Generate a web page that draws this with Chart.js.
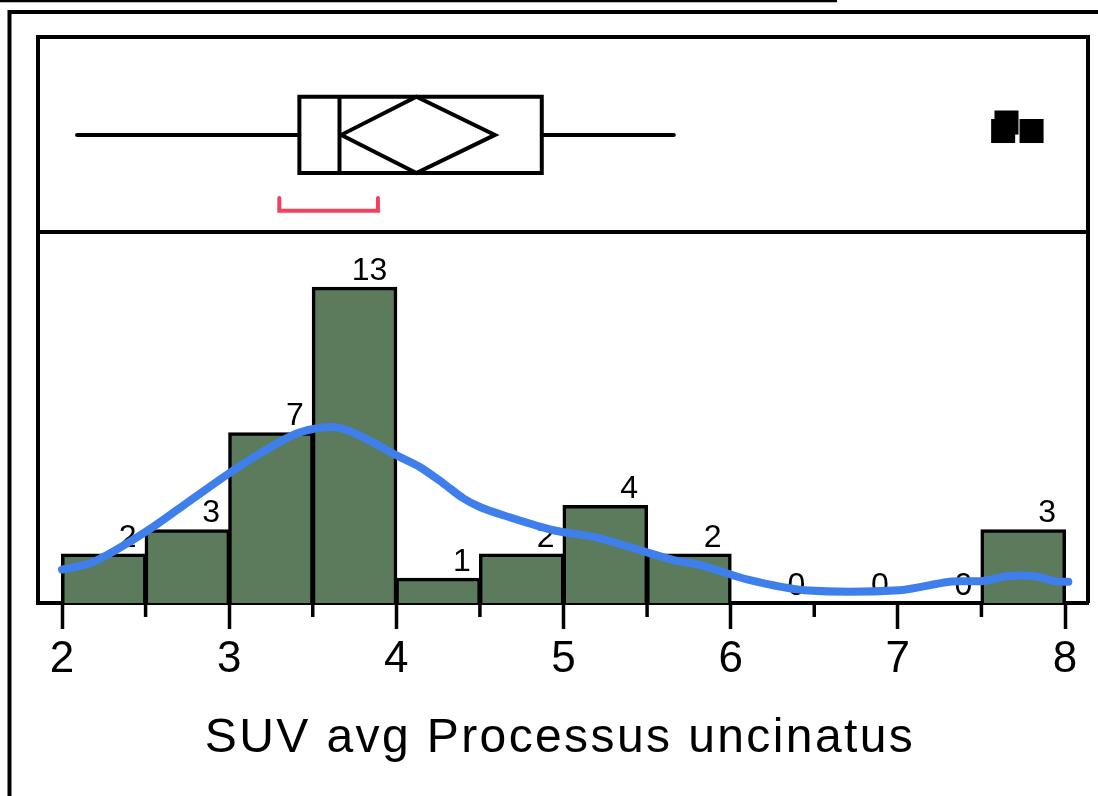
<!DOCTYPE html>
<html>
<head>
<meta charset="utf-8">
<script src="https://cdn.jsdelivr.net/npm/chart.js@4.4.0/dist/chart.umd.min.js"></script>
<style>
  body { margin: 0; background: #fff; }
  #wrap { width: 1098px; height: 796px; }
</style>
</head>
<body>
<div id="wrap"><canvas id="myChart" width="1098" height="796"></canvas></div>
<script>
// histogram bins (width 0.5) and counts
const binStarts = [2, 2.5, 3, 3.5, 4, 4.5, 5, 5.5, 6, 6.5, 7, 7.5];
const binCounts = [2, 3, 7, 13, 1, 2, 4, 2, 0, 0, 0, 3];
const binWidth = 0.5;

// smooth density curve, in count units
const curveX = [2.0, 2.19, 2.5, 2.77, 3.0, 3.2, 3.4, 3.56, 3.67, 3.8, 4.0, 4.14, 4.28, 4.4, 4.5,
  4.64, 4.94, 5.19, 5.39, 5.66, 5.82, 6.11, 6.44, 7.01, 7.31, 7.51, 7.66, 7.81, 7.96, 8.02];
const curveY = [1.38, 1.70, 2.93, 4.24, 5.35, 6.23, 6.98, 7.24, 7.20, 6.84, 6.09, 5.61, 4.94, 4.32, 3.96,
  3.62, 3.00, 2.72, 2.32, 1.77, 1.56, 0.95, 0.53, 0.53, 0.88, 0.91, 1.11, 1.11, 0.88, 0.88];

// box plot: lower whisker, q1, median, q3, upper whisker
const boxStats = [2.09, 3.42, 3.66, 4.87, 5.66];
// mean diamond: lower 95%, mean, upper 95%
const meanDiamond = [3.67, 4.12, 4.59];
const shortestHalf = [3.30, 3.89];
const outliers = [7.63, 7.65, 7.80];

const tickLabels = [2, 3, 4, 5, 6, 7, 8];
const minorTicks = [2.5, 3.5, 4.5, 5.5, 6.5, 7.5];
const axisTitle = 'SUV avg Processus uncinatus';

// vertical layout of the box plot panel (fraction of plot height, 0 = axis)
const rows = { whisker: 0.827, boxTop: 0.8945, boxBottom: 0.7597, bracket: 0.6931, bracketTip: 0.7155, split: 0.6555 };
const outlierRows = [0.8339, 0.8489, 0.8339];

const FONT = '"Liberation Sans", Arial, sans-serif';
const pxPerUnit = 1003 / 6;
const xMin = 2 - 24 / pxPerUnit;
const xMax = 8 + 23 / pxPerUnit;

const lineStyle = {
  type: 'line',
  yAxisID: 'yBox',
  borderColor: '#000',
  borderWidth: 4,
  pointRadius: 0,
  fill: false,
  tension: 0,
  borderCapStyle: 'square',
  borderJoinStyle: 'miter',
  order: 1,
};

const w = rows.whisker;
const datasets = [
  {
    type: 'line',
    data: curveX.map((x, i) => ({ x: x, y: curveY[i] })),
    yAxisID: 'y',
    borderColor: '#3f7feb',
    borderWidth: 8,
    pointRadius: 0,
    tension: 0.3,
    borderCapStyle: 'round',
    borderJoinStyle: 'round',
    fill: false,
    order: 0,
  },
  {
    type: 'bar',
    data: binStarts.map((s, i) => ({ x: s + binWidth / 2, y: binCounts[i] })),
    yAxisID: 'y',
    backgroundColor: '#5c7a5c',
    borderColor: '#000',
    borderWidth: 3.5,
    inflateAmount: 1,
    borderSkipped: 'start',
    barPercentage: 1,
    categoryPercentage: 1,
    grouped: false,
    order: 3,
  },
  Object.assign({}, lineStyle, {
    borderCapStyle: 'round',
    data: [
      { x: boxStats[0], y: w }, { x: boxStats[1], y: w },
      { x: boxStats[2], y: null },
      { x: boxStats[3], y: w }, { x: boxStats[4], y: w },
    ],
  }),
  Object.assign({}, lineStyle, {
    data: [
      { x: boxStats[1], y: rows.boxTop }, { x: boxStats[3], y: rows.boxTop },
      { x: boxStats[3], y: rows.boxBottom }, { x: boxStats[1], y: rows.boxBottom },
      { x: boxStats[1], y: rows.boxTop },
    ],
  }),
  Object.assign({}, lineStyle, {
    borderCapStyle: 'butt',
    data: [{ x: boxStats[2], y: rows.boxTop }, { x: boxStats[2], y: rows.boxBottom }],
  }),
  Object.assign({}, lineStyle, {
    data: [
      { x: meanDiamond[0], y: w }, { x: meanDiamond[1], y: rows.boxTop },
      { x: meanDiamond[2], y: w }, { x: meanDiamond[1], y: rows.boxBottom },
      { x: meanDiamond[0], y: w },
    ],
  }),
  Object.assign({}, lineStyle, {
    borderColor: '#f2405d',
    borderCapStyle: 'round',
    data: [
      { x: shortestHalf[0], y: rows.bracketTip }, { x: shortestHalf[0], y: rows.bracket },
      { x: shortestHalf[1], y: rows.bracket }, { x: shortestHalf[1], y: rows.bracketTip },
    ],
  }),
  {
    type: 'scatter',
    yAxisID: 'yBox',
    data: outliers.map((x, i) => ({ x: x, y: outlierRows[i] })),
    pointStyle: 'rect',
    pointRadius: 17,
    backgroundColor: '#000',
    borderWidth: 0,
    order: 1,
  },
];

const decorations = {
  id: 'decorations',
  afterDatasetDraw(chart, args) {
    if (args.index !== 1) return;
    const ctx = chart.ctx;
    ctx.save();
    ctx.font = '32px ' + FONT;
    ctx.fillStyle = '#000';
    ctx.textAlign = 'right';
    ctx.textBaseline = 'alphabetic';
    args.meta.data.forEach((bar, i) => {
      ctx.fillText(String(binCounts[i]), bar.x + bar.width / 2 - 9, bar.y - 8);
    });
    ctx.restore();
  },
  afterDraw(chart) {
    const ctx = chart.ctx;
    const a = chart.chartArea;
    const x = chart.scales.x;
    const yBox = chart.scales.yBox;
    ctx.save();
    ctx.strokeStyle = '#000';
    ctx.lineCap = 'butt';

    // plot frame and panel split
    ctx.lineWidth = 4;
    ctx.beginPath();
    ctx.moveTo(a.left, a.bottom);
    ctx.lineTo(a.left, a.top);
    ctx.lineTo(a.right, a.top);
    ctx.lineTo(a.right, a.bottom);
    const sy = yBox.getPixelForValue(rows.split);
    ctx.moveTo(a.left, sy);
    ctx.lineTo(a.right, sy);
    ctx.stroke();

    // outer frame and top rule
    ctx.beginPath();
    ctx.moveTo(9.5, 796);
    ctx.lineTo(9.5, 12);
    ctx.lineTo(1098, 12);
    ctx.stroke();
    ctx.lineWidth = 2.5;
    ctx.beginPath();
    ctx.moveTo(0, 1);
    ctx.lineTo(837, 1);
    ctx.stroke();

    // minor ticks
    ctx.lineWidth = 3.5;
    ctx.beginPath();
    minorTicks.forEach(v => {
      const px = x.getPixelForValue(v);
      ctx.moveTo(px, a.bottom);
      ctx.lineTo(px, a.bottom + 14);
    });
    ctx.stroke();

    // axis title
    ctx.font = '48px ' + FONT;
    ctx.fillStyle = '#000';
    ctx.textAlign = 'center';
    ctx.textBaseline = 'alphabetic';
    ctx.letterSpacing = '2.4px';
    ctx.fillText(axisTitle, 560, 752);
    ctx.letterSpacing = '0px';
    ctx.restore();
  },
};

const ctx = document.getElementById('myChart');

new Chart(ctx, {
  type: 'bar',
  data: { datasets: datasets },
  options: {
    responsive: false,
    animation: false,
    layout: { autoPadding: false, padding: { left: 38, right: 10, top: 37, bottom: 0 } },
    plugins: { legend: { display: false }, tooltip: { enabled: false } },
    scales: {
      x: {
        type: 'linear',
        min: xMin,
        max: xMax,
        offset: false,
        afterBuildTicks: (scale) => {
          scale.ticks = tickLabels.map(v => ({ value: v }));
        },
        afterFit: (scale) => {
          scale.height = 193;
        },
        ticks: {
          font: { size: 44, family: FONT },
          color: '#000',
          padding: 4,
          maxRotation: 0,
          autoSkip: false,
        },
        grid: {
          offset: false,
          drawOnChartArea: false,
          drawTicks: true,
          tickLength: 26,
          tickWidth: 3.5,
          tickColor: '#000',
        },
        border: { color: '#000', width: 4 },
      },
      y: { type: 'linear', display: false, min: 0, max: 566 / 24.25 },
      yBox: { type: 'linear', display: false, min: 0, max: 1, position: 'left' },
    },
  },
  plugins: [decorations],
});
</script>
</body>
</html>
